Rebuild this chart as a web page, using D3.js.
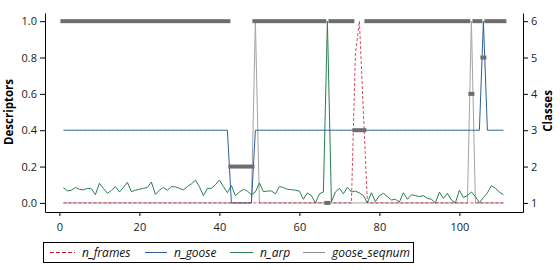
<!DOCTYPE html>
<html>
<head>
<meta charset="utf-8">
<script src="https://cdn.jsdelivr.net/npm/d3@7"></script>
<style>
  body { margin: 0; background: #fff; }
  text { font-family: "Open Sans", sans-serif; }
</style>
</head>
<body>
<div id="chart"></div>
<script>
// frame index 1..111
var frames = d3.range(1, 112);

var nFrames = [0,0,0,0,0,0,0,0,0,0, 0,0,0,0,0,0,0,0,0,0, 0,0,0,0,0,0,0,0,0,0,
  0,0,0,0,0,0,0,0,0,0, 0,0,0,0,0,0,0,0,0,0, 0,0,0,0,0,0,0,0,0,0,
  0,0,0,0,0,0,0,0,0,0, 0,0,0,0.82,1.0,0.5,0,0,0,0, 0,0,0,0,0,0,0,0,0,0,
  0,0,0,0,0,0,0,0,0,0, 0,0,0,0,0,0,0,0,0,0, 0];

var nGoose = [0.4,0.4,0.4,0.4,0.4,0.4,0.4,0.4,0.4,0.4, 0.4,0.4,0.4,0.4,0.4,0.4,0.4,0.4,0.4,0.4,
  0.4,0.4,0.4,0.4,0.4,0.4,0.4,0.4,0.4,0.4, 0.4,0.4,0.4,0.4,0.4,0.4,0.4,0.4,0.4,0.4,
  0.4,0.4,0,0,0,0,0,0,0.4,0.4, 0.4,0.4,0.4,0.4,0.4,0.4,0.4,0.4,0.4,0.4,
  0.4,0.4,0.4,0.4,0.4,0.4,0.4,0.4,0.4,0.4, 0.4,0.4,0.4,0.4,0.4,0.4,0.4,0.4,0.4,0.4,
  0.4,0.4,0.4,0.4,0.4,0.4,0.4,0.4,0.4,0.4, 0.4,0.4,0.4,0.4,0.4,0.4,0.4,0.4,0.4,0.4,
  0.4,0.4,0.4,0.4,0.4,1.0,0.4,0.4,0.4,0.4, 0.4];

var nArp = [0.084,0.066,0.07,0.085,0.075,0.072,0.08,0.078,0.045,0.108,
  0.08,0.053,0.068,0.09,0.06,0.085,0.113,0.062,0.07,0.075,
  0.08,0.085,0.115,0.047,0.07,0.085,0.07,0.09,0.088,0.08,
  0.072,0.09,0.105,0.125,0.09,0.04,0.08,0.08,0.1,0.126,
  0.09,0.056,0.095,0.04,0.06,0.075,0.065,0.045,0.06,0.11,
  0.062,0.065,0.066,0.05,0.09,0.085,0.075,0.073,0.07,0.065,
  0.02,0.055,0.04,0.0,0.05,0.06,1.0,0.005,0.06,0.08,
  0.05,0.085,0.06,0.065,0.055,0.04,0.0,0.056,0.007,0.04,
  0.053,0.035,0.016,0.02,0.005,0.056,0.02,0.045,0.04,0.035,
  0.04,0.025,0.02,0.0,0.06,0.025,0.053,0.016,0.0,0.07,
  0.03,0.04,0.06,0.035,0.0,0.03,0.055,0.095,0.08,0.06,0.045];

var gooseSeqnum = [0,0,0,0,0,0,0,0,0,0, 0,0,0,0,0,0,0,0,0,0, 0,0,0,0,0,0,0,0,0,0,
  0,0,0,0,0,0,0,0,0,0, 0,0,0,0,0,0,0,0,1.0,0, 0,0,0,0,0,0,0,0,0,0,
  0,0,0,0,0,0,0,0,0,0, 0,0,0,0,0,0,0,0,0,0, 0,0,0,0,0,0,0,0,0,0,
  0,0,0,0,0,0,0,0,0,0, 0,0,1.0,0,0,0,0,0,0,0, 0];

var classes = [6,6,6,6,6,6,6,6,6,6, 6,6,6,6,6,6,6,6,6,6, 6,6,6,6,6,6,6,6,6,6,
  6,6,6,6,6,6,6,6,6,6, 6,6,2,2,2,2,2,2,6,6, 6,6,6,6,6,6,6,6,6,6,
  6,6,6,6,6,6,1,6,6,6, 6,6,6,3,3,3,6,6,6,6, 6,6,6,6,6,6,6,6,6,6,
  6,6,6,6,6,6,6,6,6,6, 6,6,4,6,6,5,6,6,6,6, 6];

var xTicks = [0, 20, 40, 60, 80, 100];
var yTicks = [0, 0.2, 0.4, 0.6, 0.8, 1.0];
var classTicks = [1, 2, 3, 4, 5, 6];

var seriesNames = ["n_frames", "n_goose", "n_arp", "goose_seqnum"];
var seriesColors = ["#c8102e", "#2f5f95", "#2a8050", "#8f8f8f"];

var width = 560, height = 270;
var plotLeft = 45, plotRight = 523, plotTop = 13, plotBottom = 212;

var svg = d3.select("#chart").append("svg")
    .attr("width", width)
    .attr("height", height);

var x = d3.scaleLinear().domain([-3.6, 115.9]).range([plotLeft, plotRight]);
var y = d3.scaleLinear().domain([-0.05, 1.045]).range([plotBottom, plotTop]);
var yR = d3.scaleLinear().domain([0.75, 6.225]).range([plotBottom, plotTop]);

function line(vals) {
  return d3.line()
    .x(function(d, i) { return x(frames[i]); })
    .y(function(d) { return y(d); })(vals);
}

// lines (drawn under the class bars)
svg.append("path").attr("d", line(gooseSeqnum))
  .attr("fill", "none").attr("stroke", "#a3a3a3").attr("stroke-width", 1);
svg.append("path").attr("d", line(nArp))
  .attr("fill", "none").attr("stroke", seriesColors[2]).attr("stroke-width", 1);
svg.append("path").attr("d", line(nGoose))
  .attr("fill", "none").attr("stroke", seriesColors[1]).attr("stroke-width", 1);
svg.append("path").attr("d", line(nFrames))
  .attr("fill", "none").attr("stroke", seriesColors[0]).attr("stroke-width", 1)
  .attr("stroke-opacity", 0.75)
  .attr("stroke-dasharray", "3,2");

// class bars: merge consecutive frames with the same class into one bar
var runs = [];
classes.forEach(function(c, i) {
  var last = runs[runs.length - 1];
  if (last && last.c === c) last.end = frames[i];
  else runs.push({ c: c, start: frames[i], end: frames[i] });
});
svg.append("g").selectAll("rect")
  .data(runs)
  .join("rect")
    .attr("x", function(d) { return x(d.start - 0.5) - 1; })
    .attr("width", function(d) { return x(d.end + 0.5) - x(d.start - 0.5) + 2; })
    .attr("y", function(d) { return yR(d.c) - 2; })
    .attr("height", 4)
    .attr("fill", "#6d6d6d");

// axes
var gx = svg.append("g")
  .attr("transform", "translate(0," + plotBottom + ")")
  .call(d3.axisBottom(x).tickValues(xTicks).tickSize(4).tickSizeOuter(0));
var gy = svg.append("g")
  .attr("transform", "translate(" + plotLeft + ",0)")
  .call(d3.axisLeft(y).tickValues(yTicks).tickFormat(d3.format(".1f")).tickSize(5).tickSizeOuter(0));
var gr = svg.append("g")
  .attr("transform", "translate(" + plotRight + ",0)")
  .call(d3.axisRight(yR).tickValues(classTicks).tickFormat(d3.format("d")).tickSize(5).tickSizeOuter(0));

[gx, gy, gr].forEach(function(g) {
  g.selectAll("text").attr("font-size", 11).attr("fill", "#222")
    .style("font-family", "'Open Sans', sans-serif");
  g.select(".domain").attr("stroke", "#000");
});
gx.selectAll(".tick text").attr("dy", "1.05em");

// axis titles
svg.append("text")
  .attr("transform", "translate(13,112) rotate(-90)")
  .attr("text-anchor", "middle")
  .attr("font-size", 11.5).attr("font-weight", "bold")
  .text("Descriptors");
svg.append("text")
  .attr("transform", "translate(552,111) rotate(-90)")
  .attr("text-anchor", "middle")
  .attr("font-size", 11.5).attr("font-weight", "bold")
  .text("Classes");

// legend
var legend = svg.append("g");
legend.append("rect")
  .attr("x", 43.5).attr("y", 242.5).attr("width", 370).attr("height", 20)
  .attr("fill", "none").attr("stroke", "#000");
var legendX = [50, 145, 230, 303];
var legendLen = [25, 22, 23, 22];
seriesNames.forEach(function(name, i) {
  legend.append("line")
    .attr("x1", legendX[i]).attr("x2", legendX[i] + legendLen[i])
    .attr("y1", 252.5).attr("y2", 252.5)
    .attr("stroke", seriesColors[i]).attr("stroke-width", 1)
    .attr("stroke-dasharray", i === 0 ? "4,2" : null);
  legend.append("text")
    .attr("x", legendX[i] + legendLen[i] + 7).attr("y", 256.5)
    .attr("font-size", 12).attr("font-style", "italic").attr("fill", "#111")
    .text(name);
});
</script>
</body>
</html>
